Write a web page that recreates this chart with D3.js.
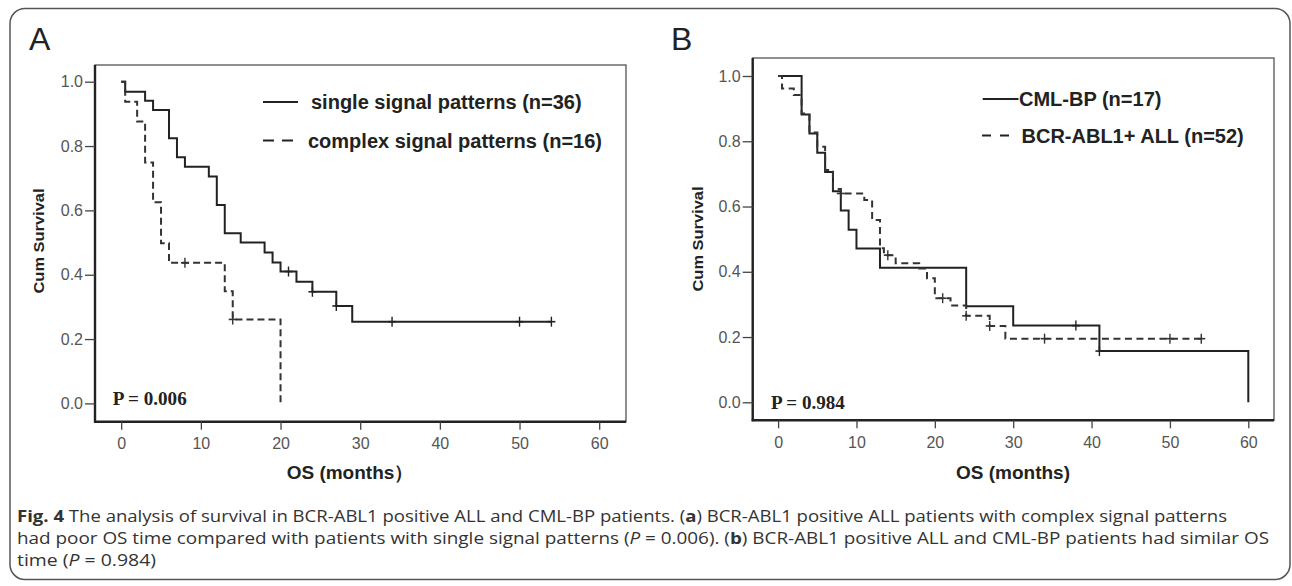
<!DOCTYPE html>
<html><head><meta charset="utf-8">
<script src="https://cdn.jsdelivr.net/npm/d3@7"></script>
<style>body{margin:0;background:#fff}svg{display:block}</style>
</head><body>
<svg id="chart" width="1292" height="586"></svg>
<script>
// ---------- data ----------
const monthTicks = [0, 10, 20, 30, 40, 50, 60];
const survTicks = [0, 0.2, 0.4, 0.6, 0.8, 1.0];

// Panel A
const singleTimes = [0, 0.5, 3, 4, 6, 7, 8, 11, 12, 13, 15, 18, 19, 20, 22, 24, 27, 29, 54];
const singleSurv  = [1, 0.969, 0.941, 0.912, 0.824, 0.765, 0.736, 0.705, 0.617, 0.529, 0.5, 0.469, 0.438, 0.41, 0.378, 0.347, 0.303, 0.254, 0.254];
const singleCensor = [21, 24, 27, 34, 50, 54];
const complexTimes = [0, 0.5, 2, 3, 4, 5, 6, 13, 14, 20];
const complexSurv  = [1, 0.938, 0.876, 0.749, 0.625, 0.498, 0.437, 0.349, 0.261, 0];
const complexCensor = [8, 14];

// Panel B
const cmlTimes = [0, 3, 4, 5, 6, 7, 8, 9, 10, 13, 24, 30, 41, 60];
const cmlSurv  = [1, 0.882, 0.824, 0.765, 0.706, 0.647, 0.588, 0.529, 0.471, 0.412, 0.294, 0.235, 0.157, 0];
const cmlCensor = [38, 41];
const allTimes = [0, 0.5, 2, 3, 4, 5, 6, 7, 8, 11, 12, 13, 13.5, 15, 18, 19, 20, 22, 24, 27, 29, 54];
const allSurv  = [1, 0.962, 0.942, 0.885, 0.827, 0.783, 0.712, 0.654, 0.64, 0.62, 0.559, 0.472, 0.451, 0.426, 0.41, 0.38, 0.319, 0.297, 0.265, 0.234, 0.195, 0.195];
const allCensor = [8, 14, 21, 24, 27, 34, 50, 54];

const legendA = ["single signal patterns (n=36)", "complex signal patterns (n=16)"];
const legendB = ["CML-BP (n=17)", "BCR-ABL1+ ALL (n=52)"];
const pValues = ["P = 0.006", "P = 0.984"];

// ---------- drawing ----------
const svg = d3.select("#chart");
svg.append("rect").attr("x", 10).attr("y", 8.5).attr("width", 1280).attr("height", 571)
  .attr("rx", 15).attr("fill", "none").attr("stroke", "#555").attr("stroke-width", 1.5);

function survAt(times, surv, t) {
  let v = surv[0];
  for (let i = 0; i < times.length; i++) if (times[i] <= t + 1e-9) v = surv[i];
  return v;
}

function drawPanel(p) {
  const g = svg.append("g");
  const x = d3.scaleLinear().domain([0, 60]).range([p.x0, p.x60]);
  const y = d3.scaleLinear().domain([0, 1]).range([p.y0, p.y1]);

  // panel letter
  g.append("text").attr("x", p.letterX).attr("y", 50).text(p.letter)
    .attr("font-family", "Liberation Sans, Arial, sans-serif").attr("font-size", 32).attr("fill", "#222");

  // box
  g.append("rect").attr("x", p.left).attr("y", p.top).attr("width", p.right - p.left)
    .attr("height", p.bottom - p.top).attr("fill", "none").attr("stroke", "#555").attr("stroke-width", 1.3);
  g.append("line").attr("x1", p.left).attr("x2", p.left).attr("y1", p.top).attr("y2", p.bottom + 1)
    .attr("stroke", "#222").attr("stroke-width", 2.4);
  g.append("line").attr("x1", p.left - 1).attr("x2", p.right).attr("y1", p.bottom).attr("y2", p.bottom)
    .attr("stroke", "#222").attr("stroke-width", 2.4);

  // axes
  const ya = d3.axisLeft(y).tickValues(survTicks).tickFormat(d3.format(".1f"))
    .tickSize(10).tickPadding(2).tickSizeOuter(0);
  const yg = g.append("g").attr("transform", `translate(${p.left},0)`).call(ya);
  const xa = d3.axisBottom(x).tickValues(monthTicks).tickFormat(d3.format("d"))
    .tickSize(8).tickPadding(8).tickSizeOuter(0);
  const xg = g.append("g").attr("transform", `translate(0,${p.bottom})`).call(xa);
  [yg, xg].forEach(a => {
    a.select(".domain").remove();
    a.selectAll(".tick line").attr("stroke", "#444").attr("stroke-width", 1.3);
    a.selectAll(".tick text").attr("font-family", "Liberation Sans, Arial, sans-serif")
      .attr("font-size", 16).attr("fill", "#555");
  });

  // axis titles
  g.append("text").attr("transform", `translate(${p.ytX},${p.ytY}) rotate(-90)`)
    .attr("text-anchor", "middle").attr("dominant-baseline", "central").text("Cum Survival")
    .attr("font-family", "Liberation Sans, Arial, sans-serif").attr("font-weight", "bold")
    .attr("font-size", 15).attr("fill", "#222").attr("textLength", 105).attr("lengthAdjust", "spacingAndGlyphs");
  g.append("text").attr("x", p.xtX).attr("y", 479).attr("text-anchor", "middle").text(p.xTitle)
    .attr("font-family", "Liberation Sans, Arial, sans-serif").attr("font-weight", "bold")
    .attr("font-size", 19).attr("fill", "#222");

  // curves
  const line = d3.line().x(d => x(d[0])).y(d => y(d[1])).curve(d3.curveStepAfter);
  p.series.forEach(s => {
    g.append("path").attr("d", line(d3.zip(s.times, s.surv))).attr("fill", "none")
      .attr("stroke", s.color).attr("stroke-width", 2).attr("stroke-dasharray", s.dash)
      .attr("stroke-linejoin", "miter").attr("stroke-linecap", "butt");
    s.censor.forEach(t => {
      const cx = x(t), cy = y(survAt(s.times, s.surv, t));
      g.append("line").attr("x1", cx).attr("x2", cx).attr("y1", cy - 5).attr("y2", cy + 5)
        .attr("stroke", s.color).attr("stroke-width", 1.4);
      g.append("line").attr("x1", cx - 4).attr("x2", cx + 4).attr("y1", cy).attr("y2", cy)
        .attr("stroke", s.color).attr("stroke-width", 1.6);
    });
  });

  // legend
  p.legend.forEach((L, i) => {
    g.append("line").attr("x1", L.x1).attr("x2", L.x2).attr("y1", L.y).attr("y2", L.y)
      .attr("stroke", "#222").attr("stroke-width", 2.2).attr("stroke-dasharray", L.dash);
    g.append("text").attr("x", L.tx).attr("y", L.y).attr("dominant-baseline", "central")
      .text(L.label).attr("font-family", "Liberation Sans, Arial, sans-serif")
      .attr("font-weight", "bold").attr("font-size", 20).attr("fill", "#222");
  });

  // p value
  g.append("text").attr("x", p.pX).attr("y", p.pY).text(p.pText)
    .attr("font-family", "Liberation Serif, Times New Roman, serif").attr("font-weight", "bold")
    .attr("font-size", 18).attr("fill", "#222").attr("textLength", 74).attr("lengthAdjust", "spacingAndGlyphs");
}

drawPanel({
  letter: "A", letterX: 29,
  left: 95, top: 65, right: 626, bottom: 421.7,
  x0: 121.2, x60: 599.2, y0: 403.4, y1: 81.7,
  ytX: 38.5, ytY: 241, xtX: 350, xTitle: "OS (months\uFF09",
  pX: 112.7, pY: 405, pText: pValues[0],
  series: [
    {times: singleTimes, surv: singleSurv, censor: singleCensor, color: "#222", dash: null},
    {times: complexTimes, surv: complexSurv, censor: complexCensor, color: "#333", dash: "7,4"}
  ],
  legend: [
    {x1: 263, x2: 298, y: 102, tx: 311, label: legendA[0], dash: null},
    {x1: 263, x2: 293, y: 140.5, tx: 308, label: legendA[1], dash: "11,8"}
  ]
});

drawPanel({
  letter: "B", letterX: 671,
  left: 752.7, top: 58, right: 1274, bottom: 420.3,
  x0: 778.1, x60: 1248.3, y0: 402.3, y1: 76,
  ytX: 697.5, ytY: 239, xtX: 1013, xTitle: "OS (months)",
  pX: 770.9, pY: 409, pText: pValues[1],
  series: [
    {times: cmlTimes, surv: cmlSurv, censor: cmlCensor, color: "#222", dash: null},
    {times: allTimes, surv: allSurv, censor: allCensor, color: "#333", dash: "7,4.5"}
  ],
  legend: [
    {x1: 982.7, x2: 1018.5, y: 99, tx: 1019, label: legendB[0], dash: null},
    {x1: 982, x2: 1010, y: 135.5, tx: 1021.5, label: legendB[1], dash: "9,9"}
  ]
});

// caption
const cap = svg.append("g").attr("font-family", "Liberation Sans Narrow, Open Sans, sans-serif")
  .attr("font-size", 16).attr("fill", "#333");
const capLines = [
  {y: 521.5, len: 1210, parts: [["Fig. 4", "b"], [" The analysis of survival in BCR-ABL1 positive ALL and CML-BP patients. (", ""], ["a", "b"], [") BCR-ABL1 positive ALL patients with complex signal patterns", ""]]},
  {y: 543.5, len: 1252, parts: [["had poor OS time compared with patients with single signal patterns (", ""], ["P", "i"], [" = 0.006). (", ""], ["b", "b"], [") BCR-ABL1 positive ALL and CML-BP patients had similar OS", ""]]},
  {y: 565.5, len: 139, parts: [["time (", ""], ["P", "i"], [" = 0.984)", ""]]}
];
capLines.forEach(l => {
  const t = cap.append("text").attr("x", 17).attr("y", l.y).attr("textLength", l.len)
    .attr("lengthAdjust", "spacingAndGlyphs").attr("xml:space", "preserve");
  l.parts.forEach(([s, st]) => {
    const ts = t.append("tspan").text(s);
    if (st === "b") ts.attr("font-weight", "bold");
    if (st === "i") ts.attr("font-style", "italic");
  });
});
</script>
</body></html>
